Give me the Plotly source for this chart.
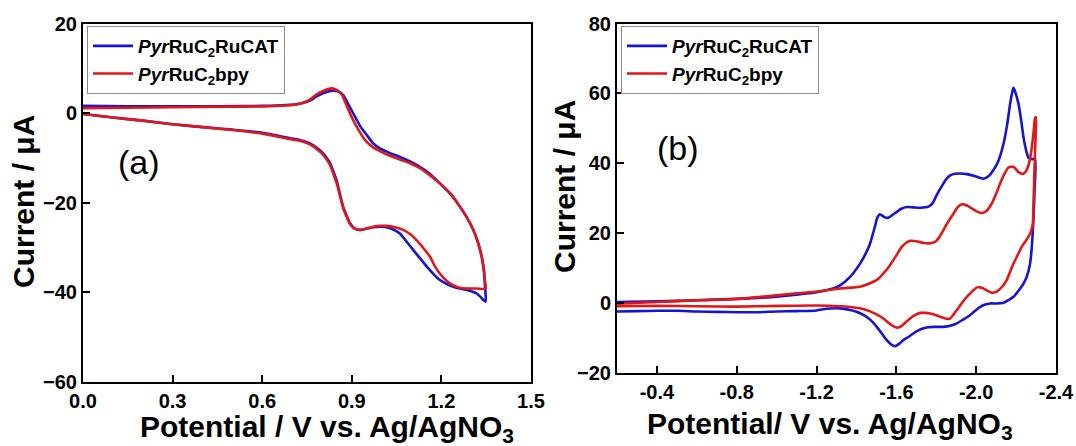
import plotly.graph_objects as go

# ---------------- data ----------------
series_names = ["<i>Pyr</i>RuC<sub>2</sub>RuCAT", "<i>Pyr</i>RuC<sub>2</sub>bpy"]

# Panel (a): anodic window
a_cat_x = [0.0, 0.15, 0.3, 0.45, 0.6, 0.68, 0.726, 0.76, 0.782, 0.81, 0.838, 0.855, 0.871, 0.888, 0.905,
           0.927, 0.95, 0.972, 0.994, 1.03, 1.061, 1.095, 1.128, 1.16, 1.195, 1.23, 1.262, 1.285, 1.307,
           1.322, 1.335, 1.342, 1.346, 1.348,
           1.33, 1.318, 1.3, 1.285, 1.262, 1.24, 1.218, 1.195, 1.173, 1.151, 1.128, 1.106, 1.083, 1.061,
           1.035, 1.005, 0.972, 0.95, 0.927, 0.91, 0.894, 0.882, 0.871, 0.86, 0.849, 0.838, 0.827, 0.81,
           0.793, 0.76, 0.726, 0.7, 0.6, 0.5, 0.41, 0.3, 0.2, 0.1, 0.0]
a_cat_y = [1.6, 1.5, 1.5, 1.5, 1.6, 1.8, 2.1, 2.8, 3.7, 4.6, 5.0, 4.8, 4.0, 2.0, -0.1,
           -2.8, -4.9, -6.8, -7.9, -9.0, -9.8, -10.8, -12.0, -13.5, -15.7, -18.0, -20.9, -23.3, -26.1,
           -28.8, -32.1, -35.0, -38.8, -42.1,
           -41.0, -40.3, -39.8, -39.5, -39.2, -38.8, -38.2, -37.3, -35.9, -34.3, -32.4, -30.6, -28.7, -26.9,
           -25.9, -25.4, -25.5, -25.8, -26.1, -25.8, -24.6, -22.8, -20.9, -18.0, -15.0, -13.0, -11.2, -9.5,
           -8.3, -6.8, -6.0, -5.7, -4.4, -3.7, -3.2, -2.5, -1.7, -1.0, -0.2]

a_bpy_x = [0.0, 0.15, 0.3, 0.45, 0.6, 0.68, 0.726, 0.76, 0.782, 0.81, 0.832, 0.85, 0.866, 0.882, 0.899,
           0.92, 0.944, 0.97, 0.994, 1.03, 1.061, 1.095, 1.128, 1.16, 1.195, 1.23, 1.262, 1.285, 1.307,
           1.322, 1.335, 1.342, 1.346, 1.348,
           1.32, 1.3, 1.285, 1.262, 1.24, 1.218, 1.195, 1.178, 1.162, 1.14, 1.117, 1.095, 1.072, 1.045,
           1.017, 0.994, 0.972, 0.95, 0.927, 0.91, 0.894, 0.882, 0.871, 0.86, 0.849, 0.838, 0.827, 0.81,
           0.793, 0.76, 0.726, 0.7, 0.6, 0.5, 0.41, 0.3, 0.2, 0.1, 0.0]
a_bpy_y = [1.1, 1.2, 1.3, 1.4, 1.5, 1.7, 2.1, 3.0, 4.2, 5.1, 5.5, 5.1, 4.2, 1.8, -0.8,
           -3.5, -6.0, -7.6, -8.5, -9.6, -10.4, -11.2, -12.3, -13.8, -15.7, -18.0, -20.9, -23.3, -26.1,
           -28.8, -32.1, -35.0, -37.5, -39.2,
           -39.2, -39.2, -39.2, -39.0, -38.5, -37.5, -35.9, -34.2, -32.1, -30.2, -28.4, -27.0, -26.1, -25.5,
           -25.2, -25.2, -25.4, -25.8, -26.1, -25.8, -24.8, -23.0, -21.2, -18.4, -15.6, -13.5, -11.6, -9.8,
           -8.6, -7.0, -6.2, -5.9, -4.6, -3.8, -3.2, -2.5, -1.7, -1.0, -0.2]

# Panel (b): cathodic window
b_cat_x = [-0.2, -0.4, -0.6, -0.8, -1.0, -1.1, -1.2, -1.26, -1.318, -1.368, -1.418, -1.443, -1.468, -1.493,
           -1.505, -1.518, -1.54, -1.56, -1.58, -1.602, -1.625, -1.652, -1.685, -1.719, -1.761, -1.782,
           -1.802, -1.827, -1.852, -1.872, -1.894, -1.92, -1.953, -1.995, -2.036, -2.06, -2.086, -2.11,
           -2.137, -2.155, -2.170, -2.18, -2.187, -2.195, -2.212, -2.225, -2.237, -2.25, -2.262, -2.28, -2.295,
           -2.293, -2.287, -2.278, -2.27, -2.255, -2.237, -2.21, -2.187, -2.16, -2.137, -2.1, -2.07, -2.045,
           -2.02, -1.995, -1.97, -1.935, -1.903, -1.87, -1.836, -1.81, -1.786, -1.76, -1.736, -1.71, -1.685,
           -1.66, -1.635, -1.615, -1.594, -1.575, -1.552, -1.527, -1.502, -1.47, -1.435, -1.4, -1.368, -1.318,
           -1.25, -1.2, -1.1, -1.0, -0.9, -0.8, -0.7, -0.6, -0.5, -0.4, -0.3, -0.2]
b_cat_y = [0.3, 0.5, 0.8, 1.2, 1.8, 2.4, 3.1, 3.8, 5.1, 7.5, 11.3, 13.8, 17.0, 22.0,
           24.5, 25.4, 24.6, 24.4, 25.2, 26.1, 27.0, 27.5, 27.4, 27.3, 27.6, 28.6,
           30.9, 33.4, 35.6, 36.6, 37.0, 37.1, 36.9, 36.3, 35.6, 36.2, 38.0, 40.5,
           45.6, 51.0, 57.0, 60.2, 61.6, 60.5, 57.0, 52.5, 47.5, 43.8, 41.6, 41.2, 41.3,
           33.0, 24.0, 15.5, 11.3, 7.8, 5.6, 3.4, 1.8, 0.8, 0.1, -0.1, -0.1, -0.4,
           -1.1, -2.2, -3.4, -4.7, -5.8, -6.5, -6.8, -6.8, -6.8, -6.9, -7.2, -7.8, -8.7,
           -9.7, -10.6, -11.6, -12.3, -11.9, -10.6, -8.7, -6.8, -4.8, -3.4, -2.5, -2.0, -1.5,
           -1.6, -2.1, -2.3, -2.4, -2.6, -2.6, -2.5, -2.4, -2.2, -2.2, -2.3, -2.4]

b_bpy_x = [-0.2, -0.4, -0.6, -0.8, -1.0, -1.1, -1.2, -1.318, -1.418, -1.485, -1.51, -1.535, -1.56, -1.585,
           -1.607, -1.627, -1.648, -1.669, -1.7, -1.736, -1.765, -1.794, -1.815, -1.836, -1.86, -1.886,
           -1.908, -1.928, -1.95, -1.978, -2.0, -2.028, -2.05, -2.078, -2.1, -2.120, -2.14, -2.162, -2.187,
           -2.212, -2.237, -2.25, -2.262, -2.272, -2.279, -2.287, -2.295, -2.3,
           -2.296, -2.292, -2.288, -2.284, -2.275, -2.262, -2.245, -2.228, -2.21, -2.187, -2.17, -2.153,
           -2.133, -2.112, -2.095, -2.078, -2.057, -2.036, -2.02, -2.003, -1.978, -1.953, -1.928, -1.903,
           -1.886, -1.869, -1.845, -1.819, -1.795, -1.769, -1.745, -1.719, -1.695, -1.669, -1.645, -1.619,
           -1.6, -1.585, -1.56, -1.535, -1.51, -1.485, -1.45, -1.418, -1.368, -1.318, -1.2, -1.0, -0.8,
           -0.6, -0.4, -0.2]
b_bpy_y = [-0.2, 0.3, 0.8, 1.2, 2.2, 2.8, 3.3, 4.2, 4.7, 6.1, 7.0, 8.5, 10.2, 12.3,
           14.3, 16.1, 17.2, 17.8, 17.7, 17.2, 17.1, 17.5, 18.8, 20.9, 23.3, 25.6,
           27.5, 28.3, 28.0, 27.1, 26.3, 25.8, 26.3, 28.5, 31.3, 34.2, 36.8, 38.8, 39.0,
           37.5, 37.0, 37.8, 39.4, 42.0, 44.7, 48.5, 52.8, 53.2,
           45.0, 38.0, 30.0, 22.8, 20.5, 19.0, 17.5, 16.1, 14.0, 11.3, 9.0, 6.6,
           4.9, 3.7, 3.1, 3.0, 3.5, 4.2, 4.5, 4.5, 3.2, 1.8, 0.0, -2.0,
           -3.3, -4.4, -4.4, -3.9, -3.4, -3.0, -2.8, -2.8, -3.4, -4.4, -5.6, -6.8,
           -7.0, -6.6, -5.6, -4.4, -3.5, -2.8, -2.0, -1.5, -1.1, -0.9, -0.7, -0.8, -1.0,
           -0.9, -0.8, -0.9]

# tick labels
a_xtick_vals = [0.0, 0.3, 0.6, 0.9, 1.2, 1.5]
a_xtick_text = ["0.0", "0.3", "0.6", "0.9", "1.2", "1.5"]
a_ytick_vals = [20, 0, -20, -40, -60]
b_xtick_vals = [-0.4, -0.8, -1.2, -1.6, -2.0, -2.4]
b_xtick_text = ["-0.4", "-0.8", "-1.2", "-1.6", "-2.0", "-2.4"]
b_ytick_vals = [80, 60, 40, 20, 0, -20]

# ---------------- styling ----------------
W, H = 1076, 446
FONT = "Liberation Sans, Arial, Helvetica, sans-serif"
BLUE = "#1414D2"
RED = "#E01818"
LW = 2.6


def px(x):
    return x / W


def py(y):
    return 1 - y / H


fig = go.Figure()

line_style = dict(width=LW, shape="spline", smoothing=0.6)

fig.add_trace(go.Scatter(x=a_cat_x, y=a_cat_y, mode="lines", name=series_names[0], legendgroup="a1",
                         line=dict(color=BLUE, **line_style), xaxis="x", yaxis="y", legend="legend"))
fig.add_trace(go.Scatter(x=a_bpy_x, y=a_bpy_y, mode="lines", name=series_names[1], legendgroup="a2",
                         line=dict(color=RED, **line_style), xaxis="x", yaxis="y", legend="legend"))
fig.add_trace(go.Scatter(x=b_cat_x, y=b_cat_y, mode="lines", name=series_names[0], legendgroup="b1",
                         line=dict(color=BLUE, **line_style), xaxis="x2", yaxis="y2", legend="legend2"))
fig.add_trace(go.Scatter(x=b_bpy_x, y=b_bpy_y, mode="lines", name=series_names[1], legendgroup="b2",
                         line=dict(color=RED, **line_style), xaxis="x2", yaxis="y2", legend="legend2"))

tickfont = dict(family=FONT, size=20, color="black", weight="bold")
axis_common = dict(showline=True, linecolor="black", linewidth=2, mirror=True,
                   ticks="inside", ticklen=7, tickwidth=2, tickcolor="black",
                   showgrid=False, zeroline=False, tickfont=tickfont, automargin=False)

legend_common = dict(xanchor="left", yanchor="top",
                     bgcolor="white", bordercolor="#8a8a8a", borderwidth=1,
                     font=dict(family=FONT, size=19, color="black", weight="bold"),
                     itemwidth=40, traceorder="grouped", tracegroupgap=0)

fig.update_layout(
    width=W, height=H,
    margin=dict(l=0, r=0, t=0, b=0, autoexpand=False),
    paper_bgcolor="white", plot_bgcolor="white",
    xaxis=dict(domain=[px(83), px(531)], range=[0, 1.5], anchor="y",
               tickmode="array", tickvals=a_xtick_vals, ticktext=a_xtick_text, **axis_common),
    yaxis=dict(domain=[py(381.7), py(23.5)], range=[-60, 20], anchor="x",
               tickmode="array", tickvals=a_ytick_vals, **axis_common),
    xaxis2=dict(domain=[px(617), px(1056)], range=[-0.2, -2.4], anchor="y2",
                tickmode="array", tickvals=b_xtick_vals, ticktext=b_xtick_text, **axis_common),
    yaxis2=dict(domain=[py(373), py(23.5)], range=[-20, 80], anchor="x2",
                tickmode="array", tickvals=b_ytick_vals, **axis_common),
    legend=dict(x=px(87), y=py(26), **legend_common),
    legend2=dict(x=px(621), y=py(26), **legend_common),
    showlegend=True,
)

title_font = dict(family=FONT, size=30, color="black", weight="bold")
annotations = [
    dict(text="Potential / V vs. Ag/AgNO<sub>3</sub>", x=px(327), y=py(428), xref="paper", yref="paper",
         xanchor="center", yanchor="middle", showarrow=False, font=title_font),
    dict(text="Potential/ V vs. Ag/AgNO<sub>3</sub>", x=px(830), y=py(425), xref="paper", yref="paper",
         xanchor="center", yanchor="middle", showarrow=False, font=title_font),
    dict(text="Current / μA", x=px(23), y=py(202), xref="paper", yref="paper", textangle=-90,
         xanchor="center", yanchor="middle", showarrow=False, font=title_font),
    dict(text="Current / μA", x=px(564), y=py(187), xref="paper", yref="paper", textangle=-90,
         xanchor="center", yanchor="middle", showarrow=False, font=title_font),
    dict(text="(a)", x=px(139), y=py(162), xref="paper", yref="paper",
         xanchor="center", yanchor="middle", showarrow=False,
         font=dict(family=FONT, size=34, color="black")),
    dict(text="(b)", x=px(678), y=py(148), xref="paper", yref="paper",
         xanchor="center", yanchor="middle", showarrow=False,
         font=dict(family=FONT, size=34, color="black")),
]
fig.update_layout(annotations=annotations)

fig.write_html("out.html")
